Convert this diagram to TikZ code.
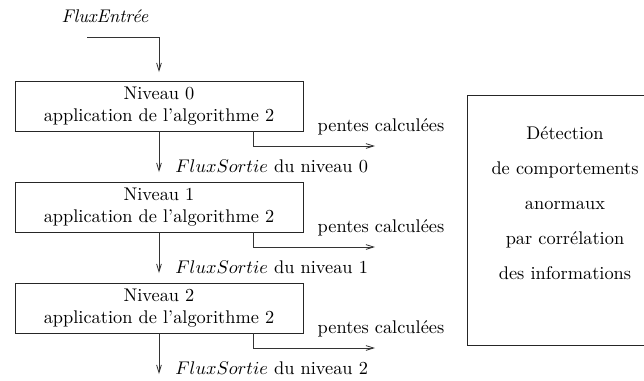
\documentclass[tikz,border=0pt]{standalone}
\usetikzlibrary{arrows.meta}
\begin{document}
\begin{tikzpicture}[x=0.545pt,y=-0.545pt,
  arr/.style={draw=black!80, line width=0.45pt, -{Straight Barb[length=4.2pt,width=2.6pt]}},
  levelbox/.style={draw=black!85, line width=0.45pt, minimum width=157pt, minimum height=27.3pt, align=center, inner sep=0pt},
  lbl/.style={inner sep=0pt}]
\useasboundingbox (0,0) rectangle (644,380);
\node[lbl] (fe) at (105,16) {\textit{FluxEntr\'ee}};
\coordinate (in) at (87,37);
\coordinate (ein) at (159,72);
\foreach \i/\y in {0/106,1/207,2/308}{
  \node[levelbox] (b\i) at (159,\y) {Niveau \i\\application de l'algorithme 2};
  \coordinate (s\i) at (159,\y+66);
  \coordinate (e\i) at (375,\y+40);
  \node[lbl] (p\i) at (381,\y+21) {pentes calcul\'ees};
  \node[lbl, anchor=west] (l\i) at (175,\y+60) {$FluxSortie$ du niveau \i};
  \draw[arr] (b\i.south) -- (s\i);
  \draw[arr] (b\i.south east) ++(-50,0) |- (e\i);
}
\draw[arr] (in) -| (ein);
\node[draw=black!85, line width=0.45pt, minimum width=106pt, minimum height=136.3pt, inner sep=0pt] (det) at (565,220) {};
\node[lbl, align=center] (dett) at (565,203)
  {D\'etection\\[7pt]de comportements\\[7pt]anormaux\\[7pt]par corr\'elation\\[7pt]des informations};
\end{tikzpicture}
\end{document}
